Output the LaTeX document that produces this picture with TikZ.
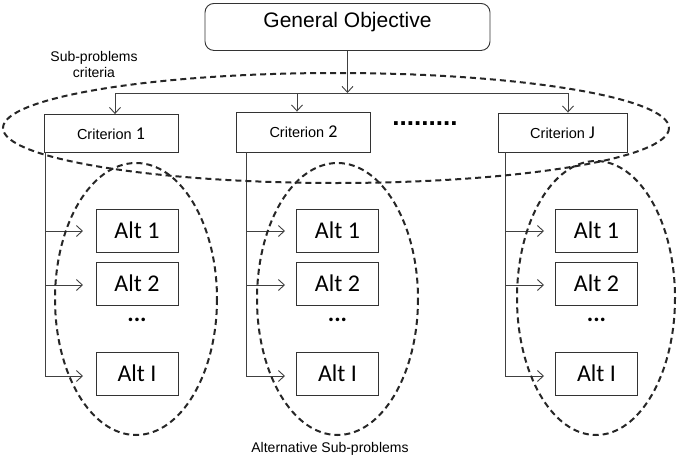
\documentclass[tikz,border=0pt]{standalone}
\usepackage{fontspec}
\setmainfont{Liberation Sans}
\newfontfamily\calib{Carlito}
\usetikzlibrary{arrows.meta}
\begin{document}
\begin{tikzpicture}[x=1pt,y=-1pt,
  box/.style={draw=black!80,line width=0.9pt,inner sep=0pt},
  altbox/.style={box,minimum width=82pt,minimum height=43pt,font=\calib\fontsize{24}{26}\selectfont},
  critbox/.style={box,minimum width=134pt,minimum height=38pt,font=\fontsize{14.5}{16}\selectfont},
  conn/.style={draw=black!75,line width=0.9pt},
  arr/.style={conn,-{Straight Barb[length=6pt,width=11pt,line width=0.9pt]}},
  dashell/.style={draw=black!85,line width=2pt,dash pattern=on 6pt off 4pt},
  lbl/.style={font=\fontsize{14}{16}\selectfont,align=center,inner sep=0pt}]
\useasboundingbox (0,0) rectangle (678,458);
\fill[white] (0,0) rectangle (678,458);

% General objective
\node[box,rounded corners=9pt,minimum width=285pt,minimum height=47pt,
  anchor=north] (go) at (347.5,3) {};
\node[inner sep=0pt,font=\fontsize{21}{24}\selectfont] (gotext) at (347.5,22) {General Objective};

% Criteria
\node[critbox] (c1) at (111,133.5) {Criterion {\calib\fontsize{18}{20}\selectfont 1}};
\node[critbox,minimum height=40pt] (c2) at (303.5,132) {Criterion {\calib\fontsize{18}{20}\selectfont 2}};
\node[critbox,minimum width=129pt,minimum height=39pt] (c3) at (562.5,132.5) {Criterion {\calib\fontsize{18}{20}\selectfont J}};
\node[inner sep=0pt,font=\bfseries\fontsize{26}{26}\selectfont] (dots) at (425,124) {.........};

% connectors top
\coordinate (hl) at (115,93);
\coordinate (hr) at (568,93);
\coordinate (hm) at (347.5,93);
\coordinate (h2) at (297,93);
\draw[arr] (go.south -| hm) -- (hm);
\draw[conn] (hl) -- (hr);
\draw[arr] (hl) -- (hl |- c1.north);
\draw[arr] (h2) -- (h2 |- c2.north);
\draw[arr] (hr) -- (hr |- c3.north);

% Alternative boxes
\foreach \col/\cx in {1/137,2/337.5,3/596.5}{
  \node[altbox] (a\col1) at (\cx,230.5) {Alt 1};
  \node[altbox] (a\col2) at (\cx,283.5) {Alt 2};
  \node[inner sep=0pt,font=\calib\bfseries\fontsize{24}{26}\selectfont] (d\col) at (\cx,320) {...};
  \node[altbox] (a\col3) at (\cx,373.5) {Alt I};
}

% vertical branches
\foreach \col/\vx/\tip in {1/45/83,2/246/285,3/505/544}{
  \coordinate (v\col) at (\vx,376);
  \coordinate (t\col1) at (\tip,231);
  \coordinate (t\col2) at (\tip,285);
  \coordinate (t\col3) at (\tip,376);
  \draw[conn] (\vx,152) -- (v\col);
  \draw[arr] (\vx,231) -- (t\col1);
  \draw[arr] (\vx,285) -- (t\col2);
  \draw[arr] (v\col) -- (t\col3);
}

% dashed ellipses
\draw[dashell] (336,128) ellipse [x radius=333, y radius=55];
\draw[dashell] (136,299) ellipse [x radius=81, y radius=136];
\draw[dashell] (337.5,299) ellipse [x radius=80.5, y radius=136];
\draw[dashell] (596,298) ellipse [x radius=79, y radius=137];

% labels
\node[lbl] (spc) at (94,64) {Sub-problems\\criteria};
\node[lbl] (asp) at (330,449) {Alternative Sub-problems};
\end{tikzpicture}
\end{document}
